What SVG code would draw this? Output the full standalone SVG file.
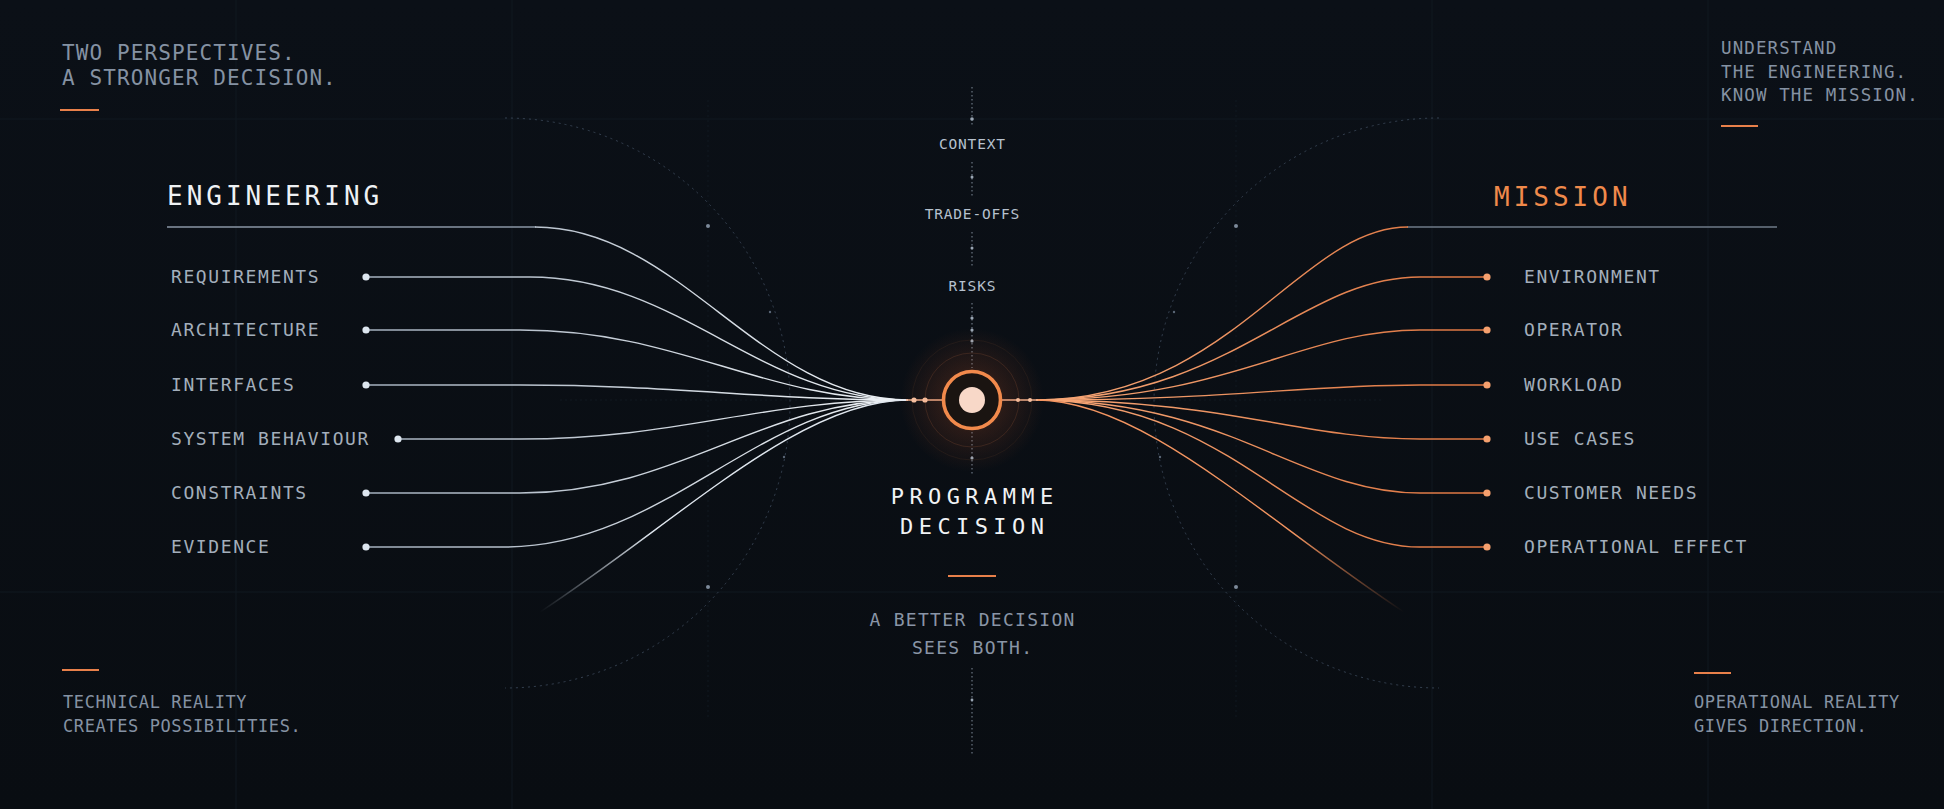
<svg xmlns="http://www.w3.org/2000/svg" width="1944" height="809" viewBox="0 0 1944 809">
<defs>
<style>
.mono{font-family:"DejaVu Sans Mono","Liberation Mono",monospace}
.note{fill:#8592a3}
.item{fill:#a3aebb;font-size:18px;letter-spacing:1.6px}
.axis{fill:#b6c1ce;font-size:14.5px;letter-spacing:0.8px}
.accent{stroke:#e8804a;stroke-width:2}
.grid{stroke:#111820;stroke-width:1}
.ring{fill:none;stroke:#364252;stroke-width:1;stroke-dasharray:2 4}
.ldot{fill:#dde6ef}
.rdot{fill:#f5a06e}
.lline{fill:none;stroke:url(#lg);stroke-width:1.4}
.rline{fill:none;stroke:url(#rg);stroke-width:1.4}
.vdash{stroke:#7f8a98;stroke-width:1;stroke-dasharray:1.5 2.5}
.bead{fill:#9aa6b4}
</style>
<linearGradient id="bgG" x1="0" y1="0" x2="0" y2="1">
<stop offset="0" stop-color="#0b1017"/><stop offset="1" stop-color="#090d12"/>
</linearGradient>
<linearGradient id="lg" gradientUnits="userSpaceOnUse" x1="366" y1="0" x2="908" y2="0">
<stop offset="0" stop-color="#a3afbd"/><stop offset="1" stop-color="#eef2f6"/>
</linearGradient>
<linearGradient id="rg" gradientUnits="userSpaceOnUse" x1="1487" y1="0" x2="1036" y2="0">
<stop offset="0" stop-color="#dc7440"/><stop offset="1" stop-color="#f8a878"/>
</linearGradient>
<linearGradient id="lbot" gradientUnits="userSpaceOnUse" x1="540" y1="0" x2="650" y2="0">
<stop offset="0" stop-color="#c9d3de" stop-opacity="0"/><stop offset="1" stop-color="#dfe6ee" stop-opacity="1"/>
</linearGradient>
<linearGradient id="rbot" gradientUnits="userSpaceOnUse" x1="1404" y1="0" x2="1294" y2="0">
<stop offset="0" stop-color="#e07a45" stop-opacity="0"/><stop offset="1" stop-color="#f29460" stop-opacity="1"/>
</linearGradient>
<radialGradient id="glow" cx="0.5" cy="0.5" r="0.5">
<stop offset="0" stop-color="#ff7a35" stop-opacity="0.5"/>
<stop offset="0.45" stop-color="#e8632a" stop-opacity="0.14"/>
<stop offset="1" stop-color="#e8632a" stop-opacity="0"/>
</radialGradient>
</defs>

<rect width="1944" height="809" fill="url(#bgG)"/>

<g id="background-grid">
<line class="grid" x1="236" y1="0" x2="236" y2="809"/>
<line class="grid" x1="512" y1="0" x2="512" y2="809"/>
<line class="grid" x1="708" y1="100" x2="708" y2="720" stroke="#18212b" stroke-dasharray="2 3"/>
<line class="grid" x1="1236" y1="100" x2="1236" y2="720" stroke="#18212b" stroke-dasharray="2 3"/>
<line class="grid" x1="1432" y1="0" x2="1432" y2="809"/>
<line class="grid" x1="1708" y1="0" x2="1708" y2="809"/>
<line class="grid" x1="0" y1="119" x2="1944" y2="119"/>
<line class="grid" x1="0" y1="592" x2="1944" y2="592"/>
<line class="grid" x1="560" y1="400" x2="880" y2="400" stroke-dasharray="2 3"/>
<line class="grid" x1="1064" y1="400" x2="1384" y2="400" stroke-dasharray="2 3"/>
<path class="ring" d="M505,118 A285,285 0 0 1 505,688"/>
<path class="ring" d="M1439,118 A285,285 0 0 0 1439,688"/>
<circle cx="708" cy="226" r="2" fill="#7d8a9a"/>
<circle cx="708" cy="587" r="2" fill="#7d8a9a"/>
<circle cx="1236" cy="226" r="2" fill="#7d8a9a"/>
<circle cx="1236" cy="587" r="2" fill="#7d8a9a"/>
<circle cx="770" cy="312" r="1.2" fill="#5a6676"/>
<circle cx="784" cy="457" r="1.2" fill="#5a6676"/>
<circle cx="1174" cy="312" r="1.2" fill="#5a6676"/>
<circle cx="1160" cy="457" r="1.2" fill="#5a6676"/>
</g>

<g id="corner-notes" class="mono">
<text class="note" x="62" y="60" font-size="21" letter-spacing="1.1">TWO PERSPECTIVES.</text>
<text class="note" x="62" y="85" font-size="21" letter-spacing="1.1">A STRONGER DECISION.</text>
<line class="accent" x1="60" y1="110" x2="99" y2="110"/>
<text class="note" x="1721" y="54" font-size="17.5" letter-spacing="1.1">UNDERSTAND</text>
<text class="note" x="1721" y="78" font-size="17.5" letter-spacing="1.1">THE ENGINEERING.</text>
<text class="note" x="1721" y="101" font-size="17.5" letter-spacing="1.1">KNOW THE MISSION.</text>
<line class="accent" x1="1721" y1="126" x2="1758" y2="126"/>
<line class="accent" x1="62" y1="670" x2="99" y2="670"/>
<text class="note" x="63" y="708" font-size="17" letter-spacing="0.6">TECHNICAL REALITY</text>
<text class="note" x="63" y="732" font-size="17" letter-spacing="0.6">CREATES POSSIBILITIES.</text>
<line class="accent" x1="1694" y1="673" x2="1731" y2="673"/>
<text class="note" x="1694" y="708" font-size="17" letter-spacing="0.6">OPERATIONAL REALITY</text>
<text class="note" x="1694" y="732" font-size="17" letter-spacing="0.6">GIVES DIRECTION.</text>
</g>

<g id="connectors">
<line x1="167" y1="227" x2="536" y2="227" stroke="#8a96a5" stroke-width="1.4"/>
<path class="lline" d="M535,227 C680,227 760,400 908,400"/>
<path class="lline" d="M366,277 H530 C680,277 760,400 908,400"/>
<path class="lline" d="M366,330 H520 C680,330 760,400 908,400"/>
<path class="lline" d="M366,385 H520 C680,385 760,400 908,400"/>
<path class="lline" d="M398,439 H520 C680,439 760,400 908,400"/>
<path class="lline" d="M366,493 H520 C680,493 760,400 908,400"/>
<path class="lline" d="M366,547 H505 C665,547 760,400 908,400"/>
<path fill="none" stroke="url(#lbot)" stroke-width="1.4" d="M908,400 C800,400 680,520 540,612"/>
<line x1="1407" y1="227" x2="1777" y2="227" stroke="#6f7b89" stroke-width="1.4"/>
<path class="rline" d="M1408,227 C1300,227 1230,400 1036,400"/>
<path class="rline" d="M1487,277 H1420 C1300,277 1230,400 1036,400"/>
<path class="rline" d="M1487,330 H1420 C1300,330 1230,400 1036,400"/>
<path class="rline" d="M1487,385 H1420 C1300,385 1230,400 1036,400"/>
<path class="rline" d="M1487,439 H1420 C1300,439 1230,400 1036,400"/>
<path class="rline" d="M1487,493 H1420 C1300,493 1230,400 1036,400"/>
<path class="rline" d="M1487,547 H1420 C1300,547 1230,400 1036,400"/>
<path fill="none" stroke="url(#rbot)" stroke-width="1.4" d="M1036,400 C1144,400 1264,520 1404,612"/>
<line x1="906" y1="400" x2="944" y2="400" stroke="#f0b08e" stroke-width="1.6"/>
<line x1="1000" y1="400" x2="1038" y2="400" stroke="#f0b08e" stroke-width="1.6"/>
<circle cx="914" cy="400" r="2.6" fill="#f6c4a6"/>
<circle cx="925" cy="400" r="2.6" fill="#f6c4a6"/>
<circle cx="1018" cy="400" r="2" fill="#f6c4a6"/>
<circle cx="1030" cy="400" r="2" fill="#f6c4a6"/>
</g>

<g id="axis">
<line class="vdash" x1="972" y1="87" x2="972" y2="127"/>
<line class="vdash" x1="972" y1="162" x2="972" y2="197"/>
<line class="vdash" x1="972" y1="232" x2="972" y2="268"/>
<line class="vdash" x1="972" y1="303" x2="972" y2="368"/>
<line class="vdash" x1="972" y1="432" x2="972" y2="475"/>
<line class="vdash" x1="972" y1="668" x2="972" y2="754"/>
<circle class="bead" cx="972" cy="119" r="1.8"/>
<circle class="bead" cx="972" cy="177" r="1.5"/>
<circle class="bead" cx="972" cy="248" r="1.5"/>
<circle class="bead" cx="972" cy="318" r="1.6"/>
<circle class="bead" cx="972" cy="330" r="1.6"/>
<circle class="bead" cx="972" cy="341" r="1.6"/>
<circle class="bead" cx="972" cy="458" r="1.6"/>
<circle class="bead" cx="972" cy="700" r="1.4"/>
<text class="mono axis" x="972.4" y="149" text-anchor="middle">CONTEXT</text>
<text class="mono axis" x="972.4" y="219" text-anchor="middle">TRADE-OFFS</text>
<text class="mono axis" x="972.4" y="291" text-anchor="middle">RISKS</text>
</g>

<g id="node-engineering" class="mono">
<text x="167" y="205" font-size="26" letter-spacing="4" fill="#eef1f4">ENGINEERING</text>
<text class="item" x="171" y="282.5">REQUIREMENTS</text>
<text class="item" x="171" y="335.5">ARCHITECTURE</text>
<text class="item" x="171" y="390.5">INTERFACES</text>
<text class="item" x="171" y="444.5">SYSTEM BEHAVIOUR</text>
<text class="item" x="171" y="498.5">CONSTRAINTS</text>
<text class="item" x="171" y="552.5">EVIDENCE</text>
<circle class="ldot" cx="366" cy="277" r="3.6"/>
<circle class="ldot" cx="366" cy="330" r="3.6"/>
<circle class="ldot" cx="366" cy="385" r="3.6"/>
<circle class="ldot" cx="398" cy="439" r="3.6"/>
<circle class="ldot" cx="366" cy="493" r="3.6"/>
<circle class="ldot" cx="366" cy="547" r="3.6"/>
</g>

<g id="node-mission" class="mono">
<text x="1494" y="206" font-size="26" letter-spacing="4" fill="#f08a4b">MISSION</text>
<text class="item" x="1524" y="282.5">ENVIRONMENT</text>
<text class="item" x="1524" y="335.5">OPERATOR</text>
<text class="item" x="1524" y="390.5">WORKLOAD</text>
<text class="item" x="1524" y="444.5">USE CASES</text>
<text class="item" x="1524" y="498.5">CUSTOMER NEEDS</text>
<text class="item" x="1524" y="552.5">OPERATIONAL EFFECT</text>
<circle class="rdot" cx="1487" cy="277" r="3.6"/>
<circle class="rdot" cx="1487" cy="330" r="3.6"/>
<circle class="rdot" cx="1487" cy="385" r="3.6"/>
<circle class="rdot" cx="1487" cy="439" r="3.6"/>
<circle class="rdot" cx="1487" cy="493" r="3.6"/>
<circle class="rdot" cx="1487" cy="547" r="3.6"/>
</g>

<g id="node-decision">
<circle cx="972" cy="400" r="72" fill="url(#glow)"/>
<circle cx="972" cy="400" r="47" fill="none" stroke="#f08a4b" stroke-opacity="0.14" stroke-width="1"/>
<circle cx="972" cy="400" r="60" fill="none" stroke="#f08a4b" stroke-opacity="0.07" stroke-width="1"/>
<circle cx="972" cy="400" r="28.5" fill="#1a1411" stroke="#f28a4c" stroke-width="3.6"/>
<circle cx="972" cy="400" r="13" fill="#f8d8c8"/>
<g class="mono">
<text x="974.7" y="504" text-anchor="middle" font-size="22" letter-spacing="5.4" fill="#f1f3f5">PROGRAMME</text>
<text x="974.7" y="534" text-anchor="middle" font-size="22" letter-spacing="5.4" fill="#f1f3f5">DECISION</text>
<line class="accent" x1="948" y1="576" x2="996" y2="576"/>
<text x="972.6" y="626" text-anchor="middle" font-size="18" letter-spacing="1.3" fill="#8995a6">A BETTER DECISION</text>
<text x="972.6" y="654" text-anchor="middle" font-size="18" letter-spacing="1.3" fill="#8995a6">SEES BOTH.</text>
</g>
</g>
</svg>
